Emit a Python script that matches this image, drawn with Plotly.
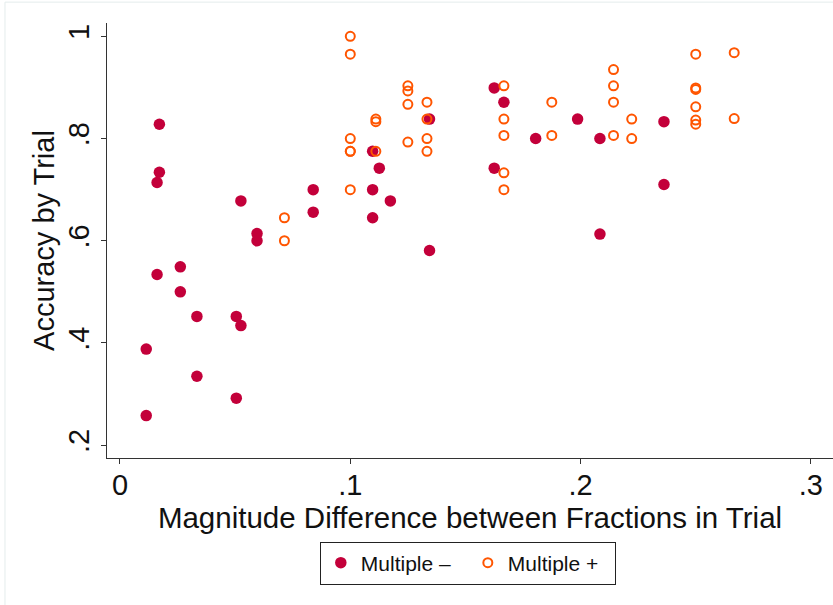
import plotly.graph_objects as go

# Multiple – (filled)
minus_x = [0.0114, 0.0114, 0.0171, 0.0171, 0.0161, 0.0161, 0.0262, 0.0262, 0.0334, 0.0334,
           0.0505, 0.0505, 0.0525, 0.0525, 0.0595, 0.0595, 0.0839, 0.0839, 0.1097, 0.1097,
           0.1097, 0.1126, 0.1174, 0.1344, 0.1344, 0.1625, 0.1667, 0.1625, 0.1805, 0.1987,
           0.2084, 0.2084, 0.2362, 0.2362]
minus_y = [0.388, 0.258, 0.828, 0.734, 0.714, 0.534, 0.549, 0.500, 0.452, 0.335,
           0.452, 0.292, 0.434, 0.678, 0.614, 0.600, 0.700, 0.656, 0.775, 0.700,
           0.645, 0.742, 0.678, 0.838, 0.581, 0.899, 0.871, 0.742, 0.800, 0.838,
           0.800, 0.613, 0.833, 0.710]

# Multiple + (open)
plus_x = [0.0714, 0.0714,
          0.1, 0.1, 0.1, 0.1, 0.1, 0.1,
          0.1111, 0.1111, 0.1111,
          0.125, 0.125, 0.125, 0.125,
          0.1333, 0.1333, 0.1333, 0.1333,
          0.1667, 0.1667, 0.1667, 0.1667, 0.1667,
          0.1875, 0.1875,
          0.2143, 0.2143, 0.2143, 0.2143,
          0.2222, 0.2222,
          0.25, 0.25, 0.25, 0.25, 0.25, 0.25,
          0.2667, 0.2667]
plus_y = [0.645, 0.600,
          1.000, 0.965, 0.800, 0.775, 0.775, 0.700,
          0.838, 0.833, 0.775,
          0.903, 0.893, 0.867, 0.793,
          0.871, 0.838, 0.800, 0.775,
          0.903, 0.838, 0.806, 0.733, 0.700,
          0.871, 0.806,
          0.935, 0.903, 0.871, 0.806,
          0.838, 0.800,
          0.965, 0.899, 0.896, 0.862, 0.836, 0.828,
          0.968, 0.839]

x_tickvals = [0, 0.1, 0.2, 0.3]
x_ticktext = ["0", ".1", ".2", ".3"]
y_tickvals = [0.2, 0.4, 0.6, 0.8, 1.0]
y_ticktext = [".2", ".4", ".6", ".8", "1"]

FONT = "Arial, Liberation Sans, Helvetica, sans-serif"
RED = "#C3003A"
ORANGE = "#FF5500"
TXT = "#111111"

fig = go.Figure()
fig.add_trace(go.Scatter(
    x=minus_x, y=minus_y, mode="markers", name="Multiple \u2013",
    marker=dict(symbol="circle", size=11.5, color=RED, line=dict(width=0)),
))
fig.add_trace(go.Scatter(
    x=plus_x, y=plus_y, mode="markers", name="Multiple +",
    marker=dict(symbol="circle-open", size=9, color=ORANGE, line=dict(width=2, color=ORANGE)),
))

axis_common = dict(
    showline=True, linecolor="#333333", linewidth=1.3,
    ticks="outside", ticklen=5, tickwidth=1.3, tickcolor="#333333",
    showgrid=False, zeroline=False, mirror=False,
    tickfont=dict(family=FONT, size=29, color=TXT),
)

fig.update_layout(
    width=833, height=605,
    margin=dict(l=107, r=0, t=23, b=147, pad=0),
    plot_bgcolor="white", paper_bgcolor="white",
    font=dict(family=FONT, color=TXT),
    showlegend=True,
    legend=dict(
        orientation="h", x=0.497, xanchor="center", y=-0.192, yanchor="top",
        bordercolor="#222222", borderwidth=1, bgcolor="white",
        font=dict(family=FONT, size=21, color=TXT),
        itemwidth=30, tracegroupgap=0,
        entrywidth=102, entrywidthmode="pixels",
    ),
    xaxis=dict(
        range=[-0.00564, 0.3096], tickvals=x_tickvals, ticktext=x_ticktext,
        ticklabelstandoff=-4,
        title=dict(text="Magnitude Difference between Fractions in Trial",
                   font=dict(family=FONT, size=29.5, color=TXT), standoff=0),
        **axis_common,
    ),
    yaxis=dict(
        range=[0.175, 1.026], tickvals=y_tickvals, ticktext=y_ticktext, tickangle=-90,
        title=dict(text="Accuracy by Trial",
                   font=dict(family=FONT, size=29, color=TXT), standoff=0),
        **axis_common,
    ),
    shapes=[dict(type="rect", xref="paper", yref="paper",
                 x0=-0.1405, x1=1.2, y0=-0.5, y1=1.048,
                 line=dict(color="#E4ECEC", width=1), fillcolor="rgba(0,0,0,0)",
                 layer="below")],
)

fig.write_html("out.html")
